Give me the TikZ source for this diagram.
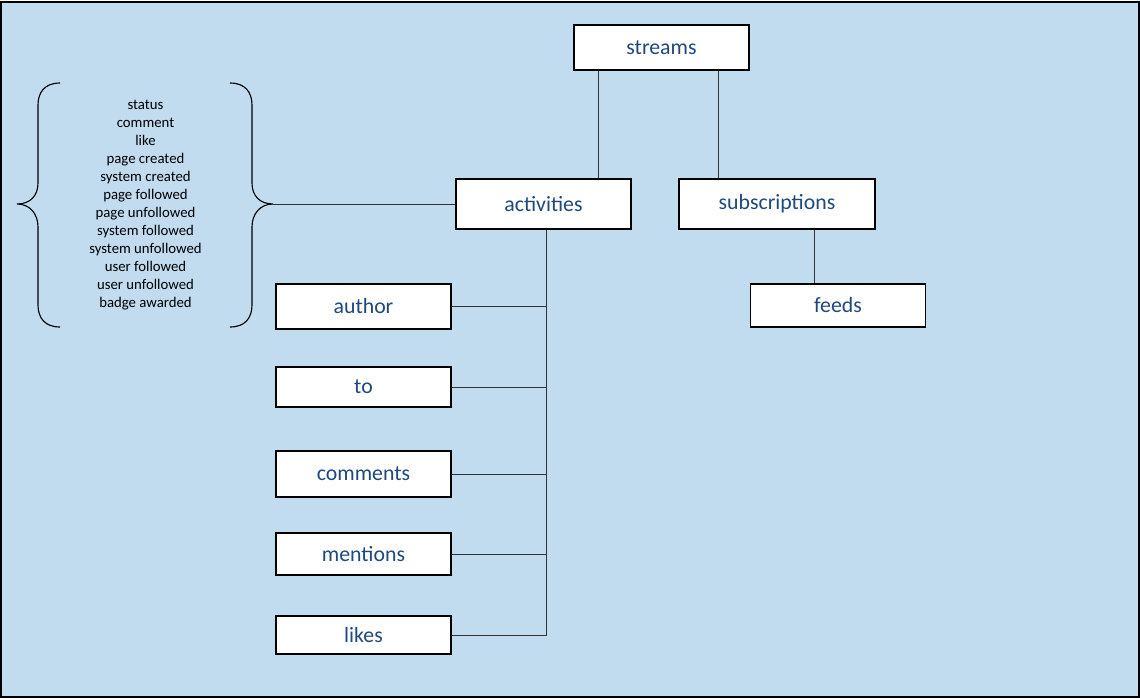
\documentclass[tikz,border=0pt]{standalone}
\usepackage{fontspec}
\setmainfont{Carlito}
\usepackage{xcolor}
\usepackage{tikz}
\usetikzlibrary{calc}
\usetikzlibrary{positioning}

\definecolor{sheetblue}{RGB}{192,220,238}
\definecolor{labelblue}{RGB}{31,73,125}

\begin{document}
\begin{tikzpicture}[x=0.025cm, y=-0.025cm, semithick]
  \tikzstyle{box}=[draw, fill=white, line width=1pt, minimum width=4.375cm,
      inner sep=0pt, text=labelblue, font=\fontsize{15.5}{18}\selectfont]
  \tikzstyle{link}=[draw=black!80, line width=0.6pt]
  \useasboundingbox (0,0) rectangle (1140,698);
  \draw[fill=sheetblue, line width=0.8pt] (1,2) rectangle (1139,697);

  % top of the tree
  \node[box, minimum height=1.125cm] (streams) at (661.5,47.5) {streams};
  \node[box, minimum height=1.25cm] (activities) at (543.5,204) {activities};
  \node[box, minimum height=1.25cm, minimum width=4.9cm] (subscriptions) at (777,204) {subscriptions};
  \node[box, minimum height=1.075cm] (feeds) at (838,305.5) {feeds};
  \draw[link] (streams.south -| 598,0) -- (activities.north -| 598,0);
  \draw[link] (streams.south -| 718,0) -- (subscriptions.north -| 718,0);
  \draw[link] (subscriptions.south -| 814,0) -- (feeds.north -| 814,0);

  % children of activities
  \coordinate (trunk) at (546,636);
  \draw[link] (activities.south -| trunk) -- (trunk);
  \foreach \name/\y/\h in {author/306.5/1.125, to/387/1.0, comments/474/1.15,
      mentions/554/1.05, likes/635/0.95}{
    \node[box, minimum height=\h cm] (\name) at (363.5,\y) {\name};
    \draw[link] (\name.east) -- (\name.east -| trunk);
  }

  % activity types
  \node[align=center, font=\fontsize{10.5}{12.8}\selectfont] (types) at (145.5,205)
    {status\\comment\\like\\page created\\system created\\page followed\\page unfollowed\\
     system followed\\system unfollowed\\user followed\\user unfollowed\\badge awarded};
  \draw[line width=0.8pt] (60,83) .. controls (45,83) and (38,92) .. (38,105) -- (38,183)
    .. controls (38,196) and (30,204) .. (17,204) .. controls (30,204) and (38,214) .. (38,227)
    -- (38,305) .. controls (38,318) and (45,327) .. (60,327);
  \draw[line width=0.8pt] (230,83) .. controls (245,83) and (252,92) .. (252,105) -- (252,183)
    .. controls (252,196) and (260,204) .. (273,204) .. controls (260,204) and (252,214) .. (252,227)
    -- (252,305) .. controls (252,318) and (245,327) .. (230,327);
  \coordinate (bracetip) at (273,204);
  \draw[link] (bracetip) -- (bracetip -| activities.west);
\end{tikzpicture}
\end{document}
